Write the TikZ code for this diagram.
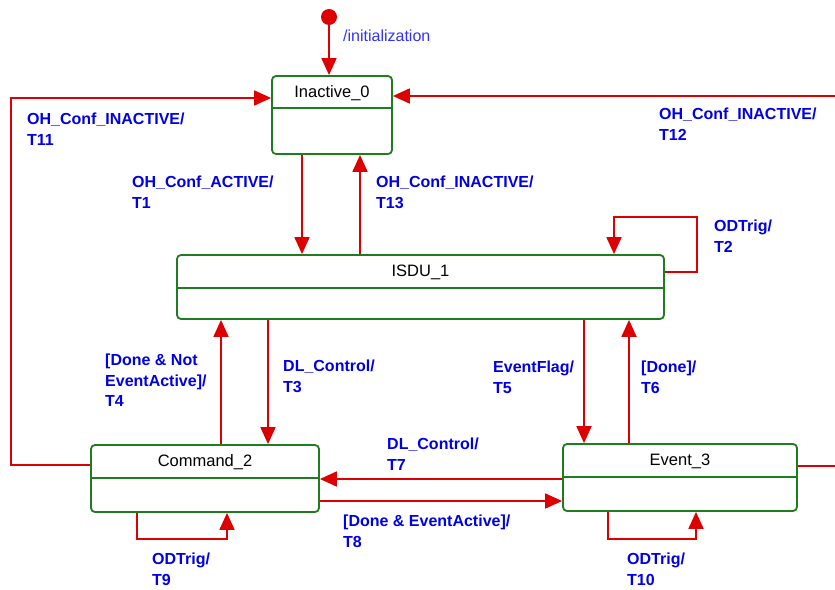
\documentclass[tikz,border=0pt]{standalone}
\usepackage{fontspec}
\setmainfont{Liberation Sans}
\usetikzlibrary{arrows.meta}
\definecolor{transred}{RGB}{221,0,0}
\definecolor{stategreen}{RGB}{30,125,30}
\definecolor{labelblue}{RGB}{0,0,230}
\definecolor{initblue}{RGB}{50,50,255}
\begin{document}
\begin{tikzpicture}[x=1bp,y=-1bp,
  state/.style={draw=stategreen,line width=1.8bp,rounded corners=4bp,inner sep=0pt},
  divider/.style={draw=stategreen,line width=1.8bp},
  title/.style={font=\fontsize{16.5bp}{19bp}\selectfont,text=black,inner sep=0pt},
  trans/.style={draw=transred,line width=1.8bp,-{Triangle[width=15bp,length=17bp]}},
  lbl/.style={font=\bfseries\fontsize{16bp}{20.5bp}\selectfont,text=labelblue,align=left,anchor=north west,inner sep=0pt}]
\useasboundingbox (0,0) rectangle (835,590);
\clip (0,0) rectangle (835,590);
\node[state,minimum width=120bp,minimum height=78bp] (inact) at (332,115) {};
\node[title] (inactname) at (332,93.5) {Inactive\_0};
\draw[divider] ([yshift=-33bp]inact.north west) -- ([yshift=-33bp]inact.north east);
\node[state,minimum width=487bp,minimum height=64bp] (isdu) at (420.5,287) {};
\node[title] (isduname) at (420.5,272.5) {ISDU\_1};
\draw[divider] ([yshift=-34bp]isdu.north west) -- ([yshift=-34bp]isdu.north east);
\node[state,minimum width=228bp,minimum height=67bp] (cmd) at (205,478.5) {};
\node[title] (cmdname) at (205,462.5) {Command\_2};
\draw[divider] ([yshift=-34bp]cmd.north west) -- ([yshift=-34bp]cmd.north east);
\node[state,minimum width=234bp,minimum height=67bp] (evt) at (680,477.5) {};
\node[title] (evtname) at (680,461.5) {Event\_3};
\draw[divider] ([yshift=-33.5bp]evt.north west) -- ([yshift=-33.5bp]evt.north east);
\node[circle,fill=transred,minimum size=16bp,inner sep=0pt] (init) at (329,17) {};
\draw[trans] (init) -- (init |- inact.north);
\node[font=\fontsize{16bp}{19bp}\selectfont,text=initblue,anchor=west,inner sep=0pt] (initlbl) at (343,36) {/initialization};
\draw[trans] (cmd.west |- 0,465) -- (11,465) -- (11,98) -- (inact.west |- 0,98);
\draw[trans] (evt.east |- 0,466) -- (850,466) -- (850,96) -- (inact.east |- 0,96);
\draw[trans] (inact.south -| 302,0) -- (isdu.north -| 302,0);
\draw[trans] (isdu.north -| 360,0) -- (inact.south -| 360,0);
\draw[trans] (isdu.east |- 0,272) -- (697,272) -- (697,217) -- (614,217) -- (isdu.north -| 614,0);
\draw[trans] (isdu.south -| 268,0) -- (cmd.north -| 268,0);
\draw[trans] (cmd.north -| 221,0) -- (isdu.south -| 221,0);
\draw[trans] (isdu.south -| 584,0) -- (evt.north -| 584,0);
\draw[trans] (evt.north -| 629,0) -- (isdu.south -| 629,0);
\draw[trans] (evt.west |- 0,479) -- (cmd.east |- 0,479);
\draw[trans] (cmd.east |- 0,501) -- (evt.west |- 0,501);
\draw[trans] (cmd.south -| 137,0) -- (137,539) -- (227,539) -- (cmd.south -| 227,0);
\draw[trans] (evt.south -| 608,0) -- (608,539) -- (696,539) -- (evt.south -| 696,0);
\node[lbl] (t11lbl) at (27,113) {OH\_Conf\_INACTIVE/\\T11};
\node[lbl] (t1lbl) at (132,176) {OH\_Conf\_ACTIVE/\\T1};
\node[lbl] (t12lbl) at (659,108) {OH\_Conf\_INACTIVE/\\T12};
\node[lbl] (t13lbl) at (376,176) {OH\_Conf\_INACTIVE/\\T13};
\node[lbl] (t2lbl) at (714,220) {ODTrig/\\T2};
\node[lbl] (t4lbl) at (105,354) {[Done \& Not\\EventActive]/\\T4};
\node[lbl] (t3lbl) at (283,360) {DL\_Control/\\T3};
\node[lbl] (t5lbl) at (493,361) {EventFlag/\\T5};
\node[lbl] (t6lbl) at (641,361) {[Done]/\\T6};
\node[lbl] (t7lbl) at (387,438) {DL\_Control/\\T7};
\node[lbl] (t8lbl) at (343,515) {[Done \& EventActive]/\\T8};
\node[lbl] (t9lbl) at (152,553) {ODTrig/\\T9};
\node[lbl] (t10lbl) at (627,553) {ODTrig/\\T10};
\end{tikzpicture}
\end{document}
